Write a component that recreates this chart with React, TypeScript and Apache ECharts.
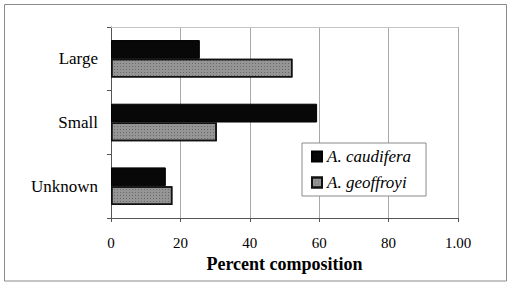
import React, { useEffect, useRef } from "react";
import * as echarts from "echarts";

const categories = ["Large", "Small", "Unknown"];
const seriesNames = ["A. caudifera", "A. geoffroyi"];
const caudifera = [25.6, 59.4, 15.8];
const geoffroyi = [52.3, 30.5, 17.7];
const tickLabels: Record<number, string> = { 0: "0", 20: "20", 40: "40", 60: "60", 80: "80", 100: "1.00" };
const axisTitle = "Percent composition";

const FONT = "Liberation Serif, Times New Roman, serif";

export default function App() {
  const ref = useRef<HTMLDivElement>(null);
  useEffect(() => {
    const chart = echarts.init(ref.current!, null, { renderer: "svg" });
    chart.setOption({
      animation: false,
      backgroundColor: "#fff",
      textStyle: { fontFamily: FONT, color: "#000" },
      graphic: [
        {
          type: "rect",
          shape: { x: 4.5, y: 4.5, width: 502, height: 276.5 },
          style: { fill: "none", stroke: "#8a8a8a", lineWidth: 1 },
          silent: true,
        },
      ],
      grid: { left: 111, right: 51, top: 27, bottom: 64, containLabel: false },
      legend: {
        orient: "vertical",
        left: 302,
        top: 143,
        data: seriesNames,
        backgroundColor: "#fff",
        borderColor: "#8a8a8a",
        borderWidth: 1,
        padding: [5, 15, 5, 9],
        itemWidth: 10,
        itemHeight: 10,
        itemGap: 9,
        icon: "rect",
        textStyle: { fontFamily: FONT, fontSize: 17, fontStyle: "italic", color: "#000" },
      },
      xAxis: [
        {
          type: "value",
          position: "bottom",
          min: 0,
          max: 100,
          interval: 20,
          name: axisTitle,
          nameLocation: "middle",
          nameGap: 37,
          nameTextStyle: { fontFamily: FONT, fontSize: 18, fontWeight: "bold", color: "#000" },
          axisLine: { show: true, lineStyle: { color: "#555", width: 1 } },
          axisTick: { show: true, length: 4, lineStyle: { color: "#555" } },
          axisLabel: {
            fontFamily: FONT,
            fontSize: 15,
            color: "#000",
            margin: 17,
            formatter: (v: number) => tickLabels[v] ?? String(v),
          },
          splitLine: { show: true, lineStyle: { color: "#a8a8a8", width: 1 } },
        },
        {
          type: "value",
          position: "top",
          min: 0,
          max: 100,
          interval: 20,
          axisLine: { show: true, lineStyle: { color: "#c4c4c4", width: 1 } },
          axisTick: { show: false },
          axisLabel: { show: false },
          splitLine: { show: false },
        },
      ],
      yAxis: {
        type: "category",
        data: categories,
        inverse: true,
        axisLine: { show: true, lineStyle: { color: "#555", width: 1 } },
        axisTick: { show: true, length: 4, lineStyle: { color: "#555" } },
        axisLabel: { fontFamily: FONT, fontSize: 17, color: "#000", margin: 13 },
        splitLine: { show: false },
      },
      series: [
        {
          name: seriesNames[0],
          type: "bar",
          xAxisIndex: 0,
          data: caudifera,
          barGap: "0%",
          barCategoryGap: "41%",
          itemStyle: { color: "#080808", borderColor: "#000", borderWidth: 1 },
        },
        {
          name: seriesNames[1],
          type: "bar",
          xAxisIndex: 0,
          data: geoffroyi,
          barGap: "0%",
          barCategoryGap: "41%",
          itemStyle: {
            color: "#959595",
            borderColor: "#111",
            borderWidth: 1.5,
            decal: {
              symbol: "rect",
              symbolSize: 1,
              color: "rgba(50,50,50,0.45)",
              dashArrayX: [1, 2],
              dashArrayY: [1, 2],
              rotation: 0,
            },
          },
        },
      ],
    });
    return () => chart.dispose();
  }, []);
  return <div ref={ref} style={{ position: "fixed", left: 0, top: 0, width: 509, height: 282 }} />;
}
